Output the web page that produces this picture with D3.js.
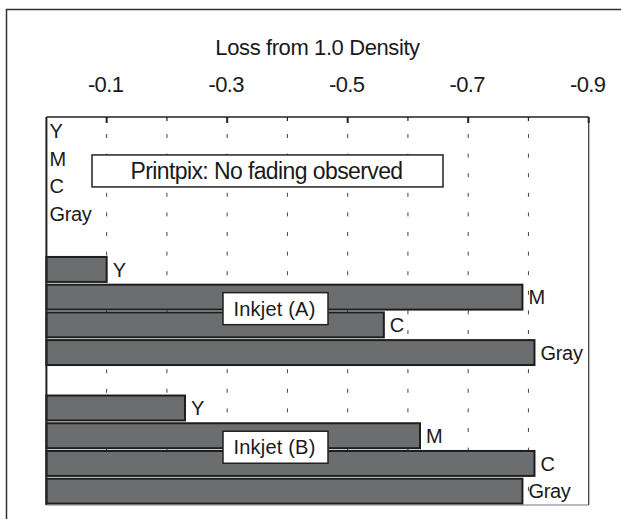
<!DOCTYPE html>
<html>
<head>
<meta charset="utf-8">
<script src="https://cdn.jsdelivr.net/npm/d3@7/dist/d3.min.js"></script>
<style>
  html, body { margin: 0; padding: 0; background: #fff; }
  svg { display: block; }
  text { font-family: "Liberation Sans", Arial, sans-serif; fill: #1a1a1a; }
</style>
</head>
<body>
<svg id="chart" width="621" height="519"></svg>
<script>
// ---- data ----
const groups = ["Printpix", "Inkjet (A)", "Inkjet (B)"];
const inks = ["Y", "M", "C", "Gray"];
const printpixLoss = [0, 0, 0, 0];
const inkjetALoss = [0.10, 0.79, 0.56, 0.81];
const inkjetBLoss = [0.23, 0.62, 0.81, 0.79];
const tickValues = [0.1, 0.2, 0.3, 0.4, 0.5, 0.6, 0.7, 0.8, 0.9];
const tickLabels = ["-0.1", "", "-0.3", "", "-0.5", "", "-0.7", "", "-0.9"];
const groupNotes = ["Printpix: No fading observed", "Inkjet (A)", "Inkjet (B)"];
const axisTitle = "Loss from 1.0 Density";

const seriesByGroup = [printpixLoss, inkjetALoss, inkjetBLoss];

// rows: each group has 4 inks, groups separated by an empty slot
const rows = [];
groups.forEach((g, gi) => {
  if (gi > 0) rows.push({ key: "gap" + gi, gap: true });
  inks.forEach((ink, ii) => rows.push({ key: g + "|" + ink, group: g, gi, ink, value: seriesByGroup[gi][ii] }));
});

const svg = d3.select("#chart");
const plot = { left: 46.4, right: 588.7, top: 117, bottom: 505 };

const x = d3.scaleLinear().domain([0, 0.9]).range([plot.left, plot.right]);
const y = d3.scaleBand().domain(rows.map(r => r.key)).range([plot.top, plot.bottom])
  .paddingInner(0.1).paddingOuter(0.05);

// outer frame (extends beyond the picture on right/bottom)
svg.append("rect").attr("x", 6.5).attr("y", 9.5).attr("width", 700).attr("height", 600)
  .attr("fill", "none").attr("stroke", "#333").attr("stroke-width", 1.5);

// dotted grid
svg.append("g").selectAll("line").data(tickValues.slice(0, 8)).join("line")
  .attr("x1", d => x(d)).attr("x2", d => x(d))
  .attr("y1", plot.top).attr("y2", plot.bottom)
  .attr("stroke", "#444").attr("stroke-width", 1)
  .attr("stroke-dasharray", "4,15.6").attr("stroke-dashoffset", -17);

// bars
const barRows = rows.filter(r => !r.gap && r.value > 0);
svg.append("g").selectAll("rect").data(barRows).join("rect")
  .attr("x", x(0)).attr("y", d => y(d.key))
  .attr("width", d => x(d.value) - x(0)).attr("height", y.bandwidth())
  .attr("fill", "#6c6d6e").attr("stroke", "#1e1e1e").attr("stroke-width", 2);

// bar-end labels
svg.append("g").selectAll("text").data(rows.filter(r => !r.gap)).join("text")
  .attr("x", d => d.value > 0 ? x(d.value) + 6 : x(0) + 3)
  .attr("y", d => y(d.key) + y.bandwidth() / 2)
  .attr("dy", "0.36em")
  .style("font-size", "20px")
  .attr("letter-spacing", "-0.3")
  .text(d => d.ink);

// plot frame
svg.append("line").attr("x1", plot.left).attr("x2", plot.right).attr("y1", plot.top).attr("y2", plot.top)
  .attr("stroke", "#222").attr("stroke-width", 1.5);
svg.append("line").attr("x1", plot.left).attr("x2", plot.left).attr("y1", plot.top).attr("y2", plot.bottom)
  .attr("stroke", "#222").attr("stroke-width", 2);
svg.append("line").attr("x1", plot.right).attr("x2", plot.right).attr("y1", plot.top).attr("y2", plot.bottom)
  .attr("stroke", "#333").attr("stroke-width", 1.2);
svg.append("line").attr("x1", plot.left).attr("x2", plot.right).attr("y1", plot.bottom).attr("y2", plot.bottom)
  .attr("stroke", "#777").attr("stroke-width", 1.2);

// top axis ticks (inward) and labels
const axisG = svg.append("g");
axisG.selectAll("line").data(tickValues).join("line")
  .attr("x1", d => x(d)).attr("x2", d => x(d))
  .attr("y1", plot.top).attr("y2", (d, i) => plot.top + (tickLabels[i] ? 6 : 4))
  .attr("stroke", "#222").attr("stroke-width", (d, i) => tickLabels[i] ? 2 : 1.2);
axisG.selectAll("text").data(tickValues).join("text")
  .attr("x", d => x(d) - 1).attr("y", 92)
  .attr("text-anchor", "middle")
  .style("font-size", "22px")
  .attr("letter-spacing", "-0.6")
  .text((d, i) => tickLabels[i]);

// axis title
svg.append("text").attr("x", (plot.left + plot.right) / 2).attr("y", 55)
  .attr("text-anchor", "middle").style("font-size", "22px")
  .attr("letter-spacing", "-0.4")
  .text(axisTitle);

// group annotation boxes
const notes = [
  { text: groupNotes[0], x0: 92, x1: 443, yc: (y("Printpix|M") + y("Printpix|C") + y.bandwidth()) / 2 - 1.5, size: 23, ls: -0.6 },
  { text: groupNotes[1], x0: 223, x1: 328, yc: y("Inkjet (A)|M") + 24, size: 20, ls: 0.2 },
  { text: groupNotes[2], x0: 223, x1: 328, yc: y("Inkjet (B)|M") + 24, size: 20, ls: 0.2 }
];
const ng = svg.append("g").selectAll("g").data(notes).join("g");
ng.append("rect")
  .attr("x", d => d.x0).attr("y", d => d.yc - 16)
  .attr("width", d => d.x1 - d.x0).attr("height", 32)
  .attr("fill", "#fff").attr("stroke", "#222").attr("stroke-width", 1.5);
ng.append("text")
  .attr("x", d => (d.x0 + d.x1) / 2 - 1).attr("y", d => d.yc)
  .attr("dy", "0.36em").attr("text-anchor", "middle")
  .style("font-size", d => d.size + "px")
  .attr("letter-spacing", d => d.ls)
  .text(d => d.text);
</script>
</body>
</html>
